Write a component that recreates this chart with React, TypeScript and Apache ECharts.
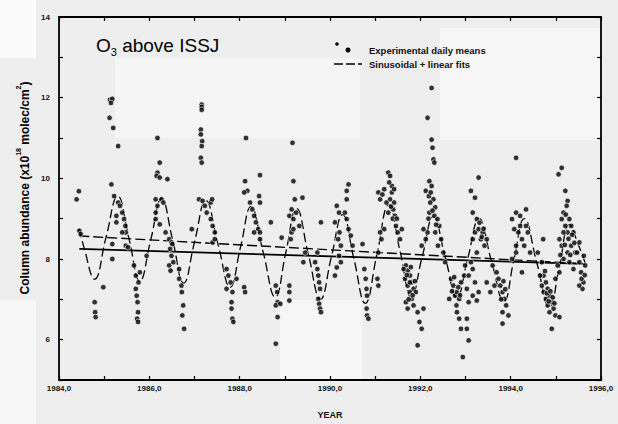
import React, { useEffect, useRef } from "react";
import * as echarts from "echarts";

// Experimental daily means: [year, column abundance (x10^18 molec/cm2)]
const dailyMeans: [number, number][] = [
  [1984.39, 9.48], [1984.44, 9.68], [1984.45, 8.7], [1984.48, 8.62], [1984.79, 6.93], [1984.8, 6.68], [1984.81, 6.56], [1984.98, 7.3],
  [1985.18, 8.0], [1985.16, 9.85], [1985.13, 11.95], [1985.18, 11.97], [1985.15, 11.87], [1985.12, 11.5], [1985.2, 11.25], [1985.31, 10.8],
  [1985.22, 9.56], [1985.31, 9.4], [1985.35, 9.32], [1985.4, 9.15], [1985.44, 8.99], [1985.47, 8.82], [1985.48, 8.66], [1985.27, 9.07],
  [1985.27, 8.91], [1985.4, 8.66], [1985.48, 8.33], [1985.53, 8.29], [1985.18, 8.37], [1985.7, 7.59], [1985.7, 7.26], [1985.72, 7.09],
  [1985.74, 6.93], [1985.75, 6.68], [1985.73, 6.52], [1985.75, 6.44], [1985.76, 7.42], [1985.79, 7.67], [1985.66, 7.84], [1985.94, 8.08],
  [1986.18, 11.0], [1986.23, 10.39], [1986.18, 10.14], [1986.16, 10.06], [1986.23, 10.02], [1986.4, 9.98], [1986.14, 9.48], [1986.18, 9.32],
  [1986.27, 9.48], [1986.31, 9.4], [1986.14, 9.15], [1986.14, 8.99], [1986.23, 8.86], [1986.36, 8.66], [1986.44, 8.49], [1986.49, 8.41],
  [1986.46, 8.25], [1986.49, 8.08], [1986.44, 7.84], [1986.47, 7.71], [1986.53, 7.92], [1986.51, 8.37], [1986.66, 7.51], [1986.71, 7.34],
  [1986.72, 7.18], [1986.75, 6.85], [1986.73, 6.6], [1986.77, 6.27], [1986.66, 7.75], [1986.94, 8.74],
  [1987.16, 11.83], [1987.16, 11.77], [1987.16, 11.7], [1987.14, 11.21], [1987.14, 11.09], [1987.17, 10.92], [1987.16, 10.8], [1987.14, 10.51],
  [1987.16, 10.39], [1987.1, 9.48], [1987.18, 9.44], [1987.23, 9.32], [1987.27, 9.15], [1987.36, 8.99], [1987.4, 8.82], [1987.45, 8.66],
  [1987.4, 8.41], [1987.45, 8.49], [1987.36, 9.4], [1987.39, 9.48], [1987.71, 7.75], [1987.75, 7.59], [1987.8, 7.42], [1987.84, 7.18],
  [1987.82, 6.93], [1987.82, 6.77], [1987.84, 6.52], [1987.86, 6.44], [1987.71, 7.26], [1987.93, 7.51], [1988.1, 7.3], [1988.12, 7.18],
  [1988.14, 11.0], [1988.12, 9.93], [1988.17, 9.69], [1988.1, 9.65], [1988.23, 9.4], [1988.28, 9.23], [1988.32, 9.07], [1988.36, 8.91],
  [1988.41, 8.74], [1988.32, 8.66], [1988.45, 10.08], [1988.43, 9.56], [1988.45, 9.4], [1988.45, 8.66], [1988.45, 8.49], [1988.69, 8.91],
  [1988.8, 7.34], [1988.83, 7.18], [1988.84, 6.93], [1988.8, 6.85], [1988.84, 6.56], [1988.8, 5.9], [1988.9, 6.89], [1988.93, 8.53],
  [1989.17, 10.88], [1989.19, 9.93], [1989.22, 9.48], [1989.15, 9.23], [1989.1, 9.07], [1989.19, 8.99], [1989.15, 8.66], [1989.13, 8.49],
  [1989.19, 8.74], [1989.25, 9.15], [1989.32, 8.82], [1989.39, 9.52], [1989.1, 7.34], [1989.1, 7.18], [1989.1, 6.97], [1989.41, 7.92],
  [1989.45, 8.16], [1989.72, 7.75], [1989.74, 7.59], [1989.76, 7.42], [1989.78, 7.26], [1989.74, 7.01], [1989.76, 6.89], [1989.78, 6.77],
  [1989.8, 6.68], [1989.72, 8.16], [1989.67, 7.92], [1989.8, 8.91],
  [1990.15, 9.32], [1990.2, 9.15], [1990.11, 8.91], [1990.21, 8.66], [1990.18, 8.49], [1990.24, 8.33], [1990.37, 9.69], [1990.41, 9.85],
  [1990.37, 9.48], [1990.33, 9.15], [1990.37, 8.99], [1990.41, 8.74], [1990.46, 8.58], [1990.5, 8.33], [1990.2, 8.08], [1990.24, 7.92],
  [1990.15, 7.79], [1990.11, 7.59], [1990.76, 7.75], [1990.79, 7.51], [1990.81, 7.26], [1990.82, 7.09], [1990.81, 6.77], [1990.82, 6.6],
  [1990.85, 6.52], [1990.72, 8.37], [1991.07, 8.16], [1991.05, 7.51], [1991.07, 7.34],
  [1991.11, 9.48], [1991.07, 9.65], [1991.16, 9.6], [1991.2, 9.73], [1991.29, 10.14], [1991.33, 10.06], [1991.37, 9.81], [1991.37, 9.65],
  [1991.33, 9.48], [1991.42, 9.4], [1991.4, 9.23], [1991.44, 9.07], [1991.29, 9.15], [1991.46, 8.82], [1991.5, 8.66], [1991.55, 8.49],
  [1991.59, 8.74], [1991.2, 8.74], [1991.11, 8.66], [1991.14, 8.49], [1991.42, 9.73], [1991.68, 7.84], [1991.72, 7.71], [1991.77, 7.59],
  [1991.66, 7.51], [1991.81, 7.42], [1991.72, 7.34], [1991.85, 7.26], [1991.77, 7.18], [1991.81, 7.01], [1991.68, 6.93], [1991.9, 7.18],
  [1991.85, 6.85], [1991.72, 6.77], [1991.94, 6.68], [1991.77, 7.42], [1991.94, 5.86], [1991.98, 6.44], [1992.03, 6.27], [1992.07, 6.77],
  [1991.31, 9.9], [1991.35, 9.3], [1991.39, 9.0], [1991.25, 9.4], [1991.48, 9.0], [1991.7, 7.6], [1991.74, 7.0], [1991.79, 7.8],
  [1991.83, 7.1], [1991.88, 7.45], [1991.63, 7.75],
  [1992.25, 12.24], [1992.16, 11.5], [1992.25, 10.96], [1992.27, 10.76], [1992.29, 10.47], [1992.31, 10.39], [1992.2, 9.93], [1992.25, 9.81],
  [1992.12, 9.69], [1992.19, 9.56], [1992.29, 9.48], [1992.22, 9.4], [1992.33, 9.28], [1992.2, 9.15], [1992.31, 9.07], [1992.38, 8.99],
  [1992.42, 8.82], [1992.33, 8.66], [1992.16, 8.66], [1992.12, 8.49], [1992.39, 8.33], [1992.46, 8.49], [1992.51, 8.16], [1992.55, 7.92],
  [1992.07, 8.74], [1992.03, 8.33], [1992.64, 7.01], [1992.73, 7.34], [1992.77, 7.09], [1992.81, 7.18], [1992.86, 7.01], [1992.8, 6.85],
  [1992.68, 7.51], [1992.9, 7.42], [1992.81, 6.68], [1992.86, 6.52], [1992.9, 6.27], [1992.94, 5.57], [1993.03, 6.27], [1993.07, 5.98],
  [1993.03, 6.52], [1992.97, 7.59], [1992.99, 7.84],
  [1992.23, 9.65], [1992.27, 9.2], [1992.35, 8.85], [1992.18, 9.0], [1992.7, 7.2], [1992.75, 7.55], [1992.84, 7.3], [1992.88, 7.1],
  [1993.12, 9.69], [1993.21, 9.52], [1993.29, 10.02], [1993.16, 9.15], [1993.25, 8.99], [1993.21, 8.66], [1993.16, 8.49], [1993.29, 8.74],
  [1993.34, 8.49], [1993.42, 8.33], [1993.25, 8.16], [1993.12, 7.92], [1993.16, 7.75], [1993.07, 7.59], [1993.21, 7.42], [1993.29, 7.18],
  [1993.16, 7.09], [1993.07, 6.93], [1993.25, 6.97], [1993.03, 7.26], [1993.38, 8.66], [1993.47, 8.49], [1993.69, 7.67], [1993.73, 7.51],
  [1993.77, 7.34], [1993.82, 7.18], [1993.86, 7.01], [1993.9, 6.85], [1993.82, 6.68], [1993.95, 6.6], [1993.82, 6.4], [1993.6, 7.84],
  [1993.64, 7.34], [1993.55, 7.18], [1993.47, 7.42], [1994.03, 8.0], [1994.12, 8.16],
  [1993.31, 8.9], [1993.36, 8.55], [1993.4, 8.75], [1993.79, 7.0], [1993.84, 7.45], [1993.88, 7.25],
  [1994.12, 10.51], [1994.03, 8.99], [1994.12, 9.15], [1994.21, 9.07], [1994.34, 9.23], [1994.08, 8.74], [1994.17, 8.66], [1994.25, 8.49],
  [1994.3, 8.33], [1994.38, 8.66], [1994.43, 8.16], [1994.12, 8.33], [1994.21, 8.82], [1994.34, 8.82], [1994.25, 7.67], [1994.6, 8.16],
  [1994.69, 7.92], [1994.73, 7.59], [1994.78, 7.42], [1994.82, 7.26], [1994.73, 7.18], [1994.86, 7.09], [1994.78, 7.01], [1994.91, 6.93],
  [1994.82, 6.85], [1994.95, 6.77], [1994.86, 6.68], [1994.99, 6.6], [1994.91, 6.27], [1995.08, 6.56], [1994.69, 7.34], [1994.65, 7.59],
  [1994.72, 8.49],
  [1994.8, 7.15], [1994.84, 6.95], [1994.88, 7.2], [1994.93, 7.05], [1994.97, 6.9], [1994.76, 7.7],
  [1995.13, 10.26], [1995.06, 10.1], [1995.21, 9.69], [1995.26, 9.44], [1995.24, 9.32], [1995.17, 9.15], [1995.13, 8.99], [1995.21, 8.82],
  [1995.26, 8.66], [1995.3, 8.99], [1995.34, 8.82], [1995.39, 8.66], [1995.17, 8.66], [1995.08, 8.49], [1995.13, 8.33], [1995.26, 8.16],
  [1995.34, 8.33], [1995.43, 8.16], [1995.17, 8.0], [1995.04, 7.84], [1995.3, 7.92], [1995.39, 7.75], [1995.08, 7.67], [1994.99, 7.51],
  [1995.52, 7.92], [1995.56, 7.67], [1995.61, 7.42], [1995.59, 7.26], [1995.65, 7.84], [1995.62, 8.08], [1995.57, 7.51], [1995.52, 7.34],
  [1995.47, 8.16], [1995.52, 8.41],
  [1995.22, 9.1], [1995.28, 8.5], [1995.32, 8.1], [1995.36, 8.6], [1995.41, 8.4], [1995.1, 8.1], [1995.2, 8.35], [1995.64, 7.6],
];

// Sinusoidal fit, read at its turning points and mid-crossings
const sinusoidFit: [number, number][] = [
  [1984.45, 8.75], [1984.55, 8.3], [1984.79, 7.5], [1985.04, 8.53], [1985.3, 9.56], [1985.55, 8.5], [1985.79, 7.45],
  [1986.03, 8.47], [1986.27, 9.5], [1986.52, 8.45], [1986.76, 7.4], [1987.0, 8.42], [1987.25, 9.45], [1987.52, 8.37],
  [1987.79, 7.3], [1988.02, 8.3], [1988.25, 9.3], [1988.52, 8.17], [1988.79, 7.05], [1989.02, 8.15], [1989.26, 9.25],
  [1989.52, 8.12], [1989.79, 7.0], [1990.03, 8.05], [1990.28, 9.1], [1990.53, 8.0], [1990.78, 6.9], [1991.04, 8.12],
  [1991.3, 9.35], [1991.55, 8.2], [1991.8, 7.05], [1992.04, 8.05], [1992.29, 9.05], [1992.55, 8.05], [1992.81, 7.05],
  [1993.05, 8.02], [1993.3, 9.0], [1993.57, 7.97], [1993.85, 6.95], [1994.07, 7.97], [1994.3, 9.0], [1994.58, 7.9],
  [1994.86, 6.8], [1995.08, 7.82], [1995.3, 8.85], [1995.5, 8.35], [1995.65, 7.9],
];

// Linear component of the sinusoidal fit (dashed) and simple linear fit (solid)
const sinusoidTrend: [number, number][] = [[1984.45, 8.57], [1995.65, 7.88]];
const linearFit: [number, number][] = [[1984.45, 8.25], [1995.65, 7.88]];

const xMin = 1984;
const xMax = 1996;
const yMin = 5;
const yMax = 14;

const FONT = "'Liberation Sans', Arial, sans-serif";

export default function App() {
  const ref = useRef<HTMLDivElement>(null);

  useEffect(() => {
    if (!ref.current) return;
    const chart = echarts.init(ref.current, null, { renderer: "svg" });
    const axisLine = { show: true, lineStyle: { color: "#000", width: 1.8 } };
    const tick = { show: true, inside: true, length: 4, lineStyle: { color: "#000", width: 1.2 } };
    chart.setOption({
      animation: false,
      backgroundColor: "#eeeeee",
      grid: { left: 59, right: 17, top: 17, bottom: 42, show: false },
      xAxis: [
        {
          type: "value",
          min: xMin,
          max: xMax,
          interval: 1,
          axisLine,
          axisTick: tick,
          splitLine: { show: false },
          axisLabel: {
            formatter: (v: number) => (v % 2 === 0 ? v.toFixed(1).replace(".", ",") : ""),
            fontFamily: FONT,
            fontSize: 8,
            fontWeight: "bold",
            color: "#111",
            margin: 4,
          },
          name: "YEAR",
          nameLocation: "middle",
          nameGap: 30,
          nameTextStyle: { fontFamily: FONT, fontSize: 9, fontWeight: "bold", color: "#111" },
        },
        {
          type: "value",
          position: "top",
          min: xMin,
          max: xMax,
          interval: 1,
          axisLine,
          axisTick: tick,
          axisLabel: { show: false },
          splitLine: { show: false },
        },
      ],
      yAxis: [
        {
          type: "value",
          min: yMin,
          max: yMax,
          interval: 1,
          axisLine,
          axisTick: tick,
          splitLine: { show: false },
          axisLabel: {
            formatter: (v: number) => (v % 2 === 0 ? String(v) : ""),
            fontFamily: FONT,
            fontSize: 8,
            fontWeight: "bold",
            color: "#111",
            margin: 9,
          },
        },
        {
          type: "value",
          position: "right",
          min: yMin,
          max: yMax,
          interval: 1,
          axisLine,
          axisTick: tick,
          axisLabel: { show: false },
          splitLine: { show: false },
        },
      ],
      graphic: [
        { type: "rect", z: -10, silent: true, shape: { x: 0, y: 0, width: 36, height: 58 }, style: { fill: "#fafafa" } },
        { type: "rect", z: -10, silent: true, shape: { x: 115, y: 58, width: 245, height: 80 }, style: { fill: "#f5f5f5" } },
        { type: "rect", z: -10, silent: true, shape: { x: 440, y: 28, width: 160, height: 112 }, style: { fill: "#f6f6f6" } },
        { type: "rect", z: -10, silent: true, shape: { x: 280, y: 300, width: 82, height: 82 }, style: { fill: "#f6f6f6" } },
        { type: "rect", z: -10, silent: true, shape: { x: 0, y: 300, width: 36, height: 124 }, style: { fill: "#f7f7f7" } },
        {
          type: "text",
          left: 96,
          top: 36,
          z: 10,
          style: {
            text: "{m|O}{s|3}{m| above ISSJ}",
            rich: {
              m: { fontFamily: FONT, fontSize: 19, fontWeight: 500, color: "#111", lineHeight: 24, verticalAlign: "middle" },
              s: { fontFamily: FONT, fontSize: 11, color: "#111", lineHeight: 24, verticalAlign: "bottom" },
            },
          },
        },
        { type: "circle", z: 10, shape: { cx: 337, cy: 44, r: 1.8 }, style: { fill: "#000" } },
        { type: "circle", z: 10, shape: { cx: 348, cy: 50, r: 2.5 }, style: { fill: "#000" } },
        {
          type: "line",
          z: 10,
          shape: { x1: 334, y1: 64, x2: 362, y2: 64 },
          style: { stroke: "#000", lineWidth: 1.3, lineDash: [9, 3] },
        },
        {
          type: "text",
          z: 10,
          x: 369,
          y: 50,
          style: {
            text: "Experimental daily means",
            fontFamily: FONT,
            fontSize: 9.5,
            fontWeight: "bold",
            fill: "#111",
            verticalAlign: "middle",
          },
        },
        {
          type: "text",
          z: 10,
          x: 369,
          y: 64,
          style: {
            text: "Sinusoidal + linear fits",
            fontFamily: FONT,
            fontSize: 9.5,
            fontWeight: "bold",
            fill: "#111",
            verticalAlign: "middle",
          },
        },
        {
          type: "text",
          z: 10,
          x: 23,
          y: 188,
          rotation: Math.PI / 2,
          style: {
            text: "{n|Column abundance (x10}{p|18}{n| molec/cm}{p|2}{n|)}",
            align: "center",
            verticalAlign: "middle",
            rich: {
              n: { fontFamily: FONT, fontSize: 12, fontWeight: "bold", color: "#111", lineHeight: 16, verticalAlign: "bottom" },
              p: { fontFamily: FONT, fontSize: 7, fontWeight: "bold", color: "#111", lineHeight: 16, verticalAlign: "top" },
            },
          },
        },
      ],
      series: [
        {
          type: "line",
          data: linearFit,
          symbol: "none",
          lineStyle: { color: "#000", width: 1.8 },
          z: 3,
        },
        {
          type: "line",
          data: sinusoidTrend,
          symbol: "none",
          lineStyle: { color: "#000", width: 1.4, type: [10, 4] },
          z: 3,
        },
        {
          type: "line",
          data: sinusoidFit,
          smooth: 0.45,
          symbol: "none",
          lineStyle: { color: "#000", width: 1.3, type: [9, 4] },
          z: 3,
        },
        {
          type: "scatter",
          data: dailyMeans,
          symbol: "circle",
          symbolSize: 5.5,
          itemStyle: { color: "#000", borderColor: "#ffffff", borderWidth: 0.8 },
          z: 4,
        },
      ],
    });
    return () => chart.dispose();
  }, []);

  return (
    <div
      ref={ref}
      style={{ position: "absolute", left: 0, top: 0, width: 618, height: 424 }}
    />
  );
}
